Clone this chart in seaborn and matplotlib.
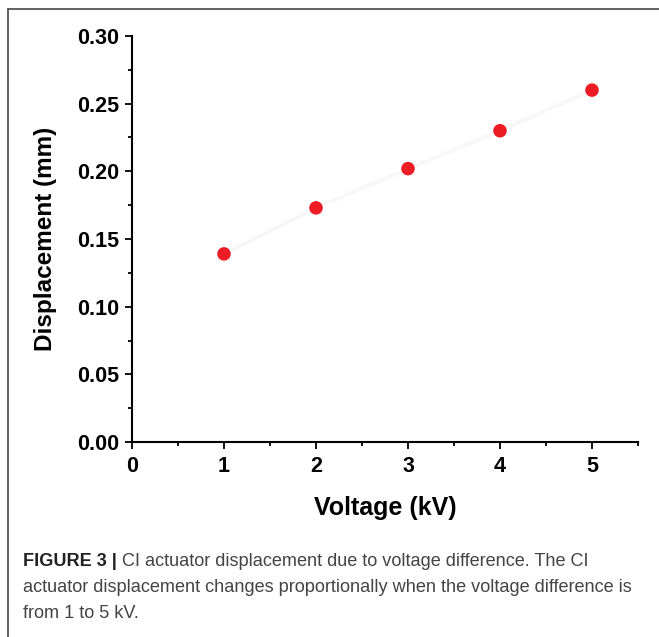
import matplotlib
matplotlib.use("Agg")
import matplotlib.pyplot as plt
from matplotlib.ticker import MultipleLocator
import seaborn as sns
import pandas as pd

voltage = [1, 2, 3, 4, 5]
displacement = [0.139, 0.173, 0.202, 0.230, 0.260]
x_ticks = [0, 1, 2, 3, 4, 5]
y_ticks = [0.00, 0.05, 0.10, 0.15, 0.20, 0.25, 0.30]
x_label = "Voltage (kV)"
y_label = "Displacement (mm)"

sns.set_theme(style="ticks")
plt.rcParams['font.family'] = ['Liberation Sans', 'DejaVu Sans']

df = pd.DataFrame({"Voltage": voltage, "Displacement": displacement})

fig = plt.figure(figsize=(6.59, 6.37), dpi=100)
ax = fig.add_axes([132/659, 1-442/637, (638-132)/659, (442-36)/637])

sns.lineplot(data=df, x="Voltage", y="Displacement", ax=ax, color="#f8f8f8",
             linewidth=3, zorder=1)
sns.scatterplot(data=df, x="Voltage", y="Displacement", ax=ax, color="#ED1C24",
                s=95, edgecolor="none", zorder=3)

ax.set_xlim(0, 5.5)
ax.set_ylim(0, 0.30)
ax.set_xticks(x_ticks)
ax.set_yticks(y_ticks)
ax.set_xticklabels([str(t) for t in x_ticks])
ax.set_yticklabels([f"{t:.2f}" for t in y_ticks])
ax.xaxis.set_minor_locator(MultipleLocator(0.5))
ax.yaxis.set_minor_locator(MultipleLocator(0.025))
ax.tick_params(which="major", direction="out", length=5, width=1.3, colors="black",
               labelsize=15.5, labelcolor="black")
ax.tick_params(which="minor", direction="out", length=3, width=1.3, colors="black")
for lab in ax.get_xticklabels() + ax.get_yticklabels():
    lab.set_fontweight("bold")
ax.tick_params(axis="x", pad=5)
ax.tick_params(axis="y", pad=4)

sns.despine(ax=ax)
for s in ["left", "bottom"]:
    ax.spines[s].set_linewidth(1.5)
    ax.spines[s].set_color("black")

ax.set_xlabel(x_label, fontsize=18, fontweight="bold", labelpad=14, color="black")
ax.set_ylabel(y_label, fontsize=17.5, fontweight="bold", labelpad=15, color="black")

# figure frame
fig.add_artist(plt.Line2D([8/659, 1], [1-9/637, 1-9/637], color="#555555", lw=1.3,
                          transform=fig.transFigure))
fig.add_artist(plt.Line2D([8/659, 8/659], [0, 1-9/637], color="#555555", lw=1.3,
                          transform=fig.transFigure))

cap_color = "#444444"
cap_size = 13.1
x0 = 23/659
t1 = fig.text(x0, 1-566/637, "FIGURE 3 | ", fontsize=cap_size, fontweight="bold",
              color="#222222", va="baseline")
fig.canvas.draw()
bb = t1.get_window_extent(renderer=fig.canvas.get_renderer())
x1 = bb.x1 / fig.bbox.width
fig.text(x1, 1-566/637, "CI actuator displacement due to voltage difference. The CI",
         fontsize=cap_size, color=cap_color, va="baseline")
fig.text(x0, 1-592/637, "actuator displacement changes proportionally when the voltage difference is",
         fontsize=cap_size, color=cap_color, va="baseline")
fig.text(x0, 1-618/637, "from 1 to 5 kV.", fontsize=cap_size, color=cap_color, va="baseline")

fig.savefig("out.png", dpi=100)
